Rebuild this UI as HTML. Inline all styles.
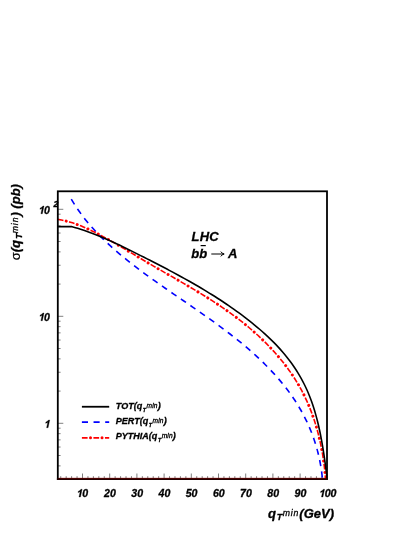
<!DOCTYPE html>
<html><head><meta charset="utf-8"><title>plot</title>
<style>
html,body{margin:0;padding:0;background:#fff;}
body{width:415px;height:537px;overflow:hidden;font-family:"Liberation Sans",sans-serif;}
svg{display:block;will-change:transform;}
text{font-family:"Liberation Sans",sans-serif;font-weight:bold;font-style:italic;fill:#000;stroke:#000;stroke-width:0.3px;}
.r{font-weight:normal;stroke:#000;stroke-width:0.3px;}
.n{font-weight:normal;font-style:normal;stroke-width:0.15px;}
</style></head><body>
<svg width="415" height="537" viewBox="0 0 415 537">
<rect width="415" height="537" fill="#fff"/>

<path d="M60.74,479.0 v-2.8 M66.18,479.0 v-2.8 M71.62,479.0 v-2.8 M77.06,479.0 v-2.8 M82.50,479.0 v-5.5 M87.94,479.0 v-2.8 M93.38,479.0 v-2.8 M98.82,479.0 v-2.8 M104.26,479.0 v-2.8 M109.70,479.0 v-5.5 M115.14,479.0 v-2.8 M120.58,479.0 v-2.8 M126.02,479.0 v-2.8 M131.46,479.0 v-2.8 M136.90,479.0 v-5.5 M142.34,479.0 v-2.8 M147.78,479.0 v-2.8 M153.22,479.0 v-2.8 M158.66,479.0 v-2.8 M164.10,479.0 v-5.5 M169.54,479.0 v-2.8 M174.98,479.0 v-2.8 M180.42,479.0 v-2.8 M185.86,479.0 v-2.8 M191.30,479.0 v-5.5 M196.74,479.0 v-2.8 M202.18,479.0 v-2.8 M207.62,479.0 v-2.8 M213.06,479.0 v-2.8 M218.50,479.0 v-5.5 M223.94,479.0 v-2.8 M229.38,479.0 v-2.8 M234.82,479.0 v-2.8 M240.26,479.0 v-2.8 M245.70,479.0 v-5.5 M251.14,479.0 v-2.8 M256.58,479.0 v-2.8 M262.02,479.0 v-2.8 M267.46,479.0 v-2.8 M272.90,479.0 v-5.5 M278.34,479.0 v-2.8 M283.78,479.0 v-2.8 M289.22,479.0 v-2.8 M294.66,479.0 v-2.8 M300.10,479.0 v-5.5 M305.54,479.0 v-2.8 M310.98,479.0 v-2.8 M316.42,479.0 v-2.8 M321.86,479.0 v-2.8 M327.30,479.0 v-5.5 M57.8,479.25 h2.8 M57.8,465.88 h2.8 M57.8,455.51 h2.8 M57.8,447.04 h2.8 M57.8,439.87 h2.8 M57.8,433.67 h2.8 M57.8,428.20 h2.8 M57.8,423.30 h5.5 M57.8,391.09 h2.8 M57.8,372.25 h2.8 M57.8,358.88 h2.8 M57.8,348.51 h2.8 M57.8,340.04 h2.8 M57.8,332.87 h2.8 M57.8,326.67 h2.8 M57.8,321.20 h2.8 M57.8,316.30 h5.5 M57.8,284.09 h2.8 M57.8,265.25 h2.8 M57.8,251.88 h2.8 M57.8,241.51 h2.8 M57.8,233.04 h2.8 M57.8,225.87 h2.8 M57.8,219.67 h2.8 M57.8,214.20 h2.8 M57.8,209.30 h5.5" stroke="#000" stroke-width="0.5" fill="none"/>
<clipPath id="c"><rect x="57.8" y="191.3" width="269.2" height="288.7"/></clipPath>
<g clip-path="url(#c)" fill="none" stroke-linejoin="round">
<path d="M71.30,199.20 C71.87,200.14 73.56,202.98 74.75,204.82 C75.94,206.67 77.16,208.48 78.41,210.27 C79.66,212.06 80.95,213.83 82.27,215.56 C83.58,217.30 84.93,219.01 86.30,220.70 C87.68,222.39 89.08,224.05 90.51,225.70 C91.94,227.34 93.39,228.96 94.87,230.55 C96.35,232.15 97.85,233.72 99.37,235.28 C100.90,236.84 102.44,238.37 104.01,239.89 C105.57,241.40 107.16,242.90 108.76,244.38 C110.36,245.86 111.98,247.32 113.61,248.76 C115.24,250.21 116.89,251.64 118.55,253.05 C120.21,254.46 121.89,255.86 123.57,257.24 C125.26,258.63 126.95,260.00 128.66,261.36 C130.36,262.72 132.08,264.06 133.80,265.39 C135.53,266.73 137.26,268.05 139.00,269.36 C140.74,270.68 142.49,271.98 144.24,273.27 C146.00,274.57 147.76,275.85 149.53,277.13 C151.30,278.41 153.07,279.68 154.85,280.95 C156.63,282.21 158.41,283.47 160.20,284.72 C161.99,285.98 163.78,287.22 165.58,288.47 C167.37,289.72 169.17,290.96 170.97,292.20 C172.77,293.44 174.58,294.67 176.38,295.91 C178.19,297.15 179.99,298.38 181.80,299.62 C183.61,300.85 185.41,302.09 187.22,303.33 C189.03,304.56 190.83,305.80 192.64,307.04 C194.44,308.29 196.25,309.53 198.05,310.78 C199.85,312.03 201.65,313.28 203.44,314.54 C205.24,315.80 207.03,317.06 208.82,318.34 C210.61,319.61 212.39,320.88 214.17,322.17 C215.95,323.46 217.73,324.75 219.49,326.05 C221.26,327.36 223.03,328.67 224.78,329.99 C226.53,331.32 228.28,332.65 230.02,334.00 C231.76,335.34 233.50,336.70 235.22,338.07 C236.94,339.44 238.66,340.82 240.36,342.22 C242.06,343.61 243.76,345.02 245.43,346.45 C247.11,347.87 248.78,349.30 250.43,350.76 C252.08,352.21 253.72,353.67 255.34,355.15 C256.96,356.63 258.57,358.12 260.15,359.63 C261.74,361.14 263.31,362.66 264.86,364.21 C266.41,365.75 267.94,367.30 269.45,368.87 C270.96,370.45 272.45,372.03 273.91,373.64 C275.38,375.24 276.82,376.87 278.24,378.51 C279.66,380.14 281.05,381.80 282.42,383.48 C283.79,385.15 285.13,386.84 286.44,388.55 C287.76,390.27 289.04,391.99 290.30,393.74 C291.55,395.49 292.78,397.26 293.98,399.05 C295.17,400.83 296.34,402.64 297.47,404.47 C298.60,406.29 299.70,408.14 300.76,410.00 C301.83,411.87 302.86,413.76 303.85,415.67 C304.85,417.57 305.81,419.50 306.73,421.45 C307.66,423.39 308.54,425.36 309.40,427.35 C310.25,429.33 311.06,431.33 311.84,433.36 C312.62,435.38 313.36,437.42 314.06,439.48 C314.76,441.54 315.42,443.62 316.05,445.71 C316.67,447.81 317.26,449.92 317.80,452.05 C318.35,454.18 318.86,456.33 319.32,458.49 C319.79,460.65 320.21,462.84 320.59,465.03 C320.98,467.23 321.32,469.44 321.62,471.67 C321.92,473.90 322.27,477.28 322.40,478.41" stroke="#0000ff" stroke-width="1.6" stroke-dasharray="6.1,5.4"/>
<path d="M57.80,219.40 C58.87,219.60 62.07,220.15 64.19,220.63 C66.30,221.11 68.40,221.68 70.49,222.30 C72.57,222.92 74.64,223.61 76.70,224.36 C78.76,225.10 80.81,225.90 82.85,226.75 C84.89,227.59 86.91,228.49 88.93,229.43 C90.95,230.36 92.95,231.34 94.95,232.34 C96.95,233.34 98.94,234.38 100.93,235.44 C102.91,236.50 104.88,237.58 106.85,238.68 C108.82,239.77 110.78,240.88 112.74,242.00 C114.70,243.12 116.65,244.25 118.60,245.39 C120.55,246.52 122.50,247.67 124.44,248.82 C126.39,249.97 128.33,251.13 130.27,252.28 C132.20,253.44 134.14,254.60 136.08,255.76 C138.02,256.92 139.95,258.08 141.89,259.23 C143.83,260.38 145.77,261.53 147.71,262.67 C149.65,263.82 151.60,264.95 153.54,266.08 C155.49,267.22 157.43,268.34 159.38,269.46 C161.33,270.58 163.27,271.70 165.22,272.82 C167.17,273.94 169.11,275.05 171.06,276.16 C173.00,277.28 174.95,278.39 176.89,279.51 C178.83,280.63 180.77,281.74 182.70,282.86 C184.64,283.99 186.57,285.11 188.50,286.24 C190.42,287.37 192.35,288.51 194.26,289.65 C196.18,290.79 198.09,291.94 200.00,293.10 C201.91,294.26 203.81,295.42 205.70,296.60 C207.59,297.78 209.48,298.97 211.36,300.17 C213.23,301.37 215.10,302.58 216.96,303.81 C218.82,305.04 220.67,306.28 222.51,307.54 C224.35,308.79 226.18,310.07 228.00,311.36 C229.82,312.65 231.63,313.96 233.43,315.29 C235.22,316.61 237.01,317.96 238.78,319.33 C240.55,320.69 242.30,322.08 244.04,323.48 C245.78,324.88 247.51,326.30 249.22,327.75 C250.93,329.19 252.62,330.65 254.29,332.13 C255.96,333.61 257.62,335.11 259.25,336.64 C260.88,338.16 262.50,339.70 264.09,341.26 C265.68,342.82 267.25,344.40 268.79,346.01 C270.34,347.61 271.86,349.24 273.36,350.88 C274.86,352.53 276.34,354.19 277.78,355.88 C279.23,357.57 280.65,359.27 282.04,361.00 C283.44,362.74 284.80,364.49 286.14,366.26 C287.47,368.04 288.78,369.83 290.05,371.65 C291.33,373.47 292.57,375.31 293.78,377.17 C294.99,379.04 296.17,380.92 297.32,382.83 C298.46,384.74 299.57,386.67 300.65,388.63 C301.72,390.58 302.76,392.56 303.76,394.56 C304.77,396.56 305.73,398.59 306.66,400.64 C307.59,402.68 308.48,404.75 309.33,406.84 C310.19,408.92 311.01,411.03 311.79,413.15 C312.58,415.27 313.32,417.41 314.04,419.55 C314.75,421.70 315.43,423.87 316.08,426.04 C316.73,428.21 317.34,430.40 317.92,432.59 C318.50,434.78 319.05,436.98 319.56,439.19 C320.08,441.39 320.56,443.60 321.01,445.81 C321.46,448.03 321.88,450.25 322.27,452.46 C322.66,454.68 323.01,456.89 323.34,459.11 C323.67,461.32 323.97,463.54 324.23,465.74 C324.50,467.95 324.74,470.15 324.95,472.34 C325.16,474.54 325.41,477.81 325.50,478.90" stroke="#ff0000" stroke-width="1.6" stroke-dasharray="5.7,5.83" fill="none"/><path d="M57.80,219.40 C58.87,219.60 62.07,220.15 64.19,220.63 C66.30,221.11 68.40,221.68 70.49,222.30 C72.57,222.92 74.64,223.61 76.70,224.36 C78.76,225.10 80.81,225.90 82.85,226.75 C84.89,227.59 86.91,228.49 88.93,229.43 C90.95,230.36 92.95,231.34 94.95,232.34 C96.95,233.34 98.94,234.38 100.93,235.44 C102.91,236.50 104.88,237.58 106.85,238.68 C108.82,239.77 110.78,240.88 112.74,242.00 C114.70,243.12 116.65,244.25 118.60,245.39 C120.55,246.52 122.50,247.67 124.44,248.82 C126.39,249.97 128.33,251.13 130.27,252.28 C132.20,253.44 134.14,254.60 136.08,255.76 C138.02,256.92 139.95,258.08 141.89,259.23 C143.83,260.38 145.77,261.53 147.71,262.67 C149.65,263.82 151.60,264.95 153.54,266.08 C155.49,267.22 157.43,268.34 159.38,269.46 C161.33,270.58 163.27,271.70 165.22,272.82 C167.17,273.94 169.11,275.05 171.06,276.16 C173.00,277.28 174.95,278.39 176.89,279.51 C178.83,280.63 180.77,281.74 182.70,282.86 C184.64,283.99 186.57,285.11 188.50,286.24 C190.42,287.37 192.35,288.51 194.26,289.65 C196.18,290.79 198.09,291.94 200.00,293.10 C201.91,294.26 203.81,295.42 205.70,296.60 C207.59,297.78 209.48,298.97 211.36,300.17 C213.23,301.37 215.10,302.58 216.96,303.81 C218.82,305.04 220.67,306.28 222.51,307.54 C224.35,308.79 226.18,310.07 228.00,311.36 C229.82,312.65 231.63,313.96 233.43,315.29 C235.22,316.61 237.01,317.96 238.78,319.33 C240.55,320.69 242.30,322.08 244.04,323.48 C245.78,324.88 247.51,326.30 249.22,327.75 C250.93,329.19 252.62,330.65 254.29,332.13 C255.96,333.61 257.62,335.11 259.25,336.64 C260.88,338.16 262.50,339.70 264.09,341.26 C265.68,342.82 267.25,344.40 268.79,346.01 C270.34,347.61 271.86,349.24 273.36,350.88 C274.86,352.53 276.34,354.19 277.78,355.88 C279.23,357.57 280.65,359.27 282.04,361.00 C283.44,362.74 284.80,364.49 286.14,366.26 C287.47,368.04 288.78,369.83 290.05,371.65 C291.33,373.47 292.57,375.31 293.78,377.17 C294.99,379.04 296.17,380.92 297.32,382.83 C298.46,384.74 299.57,386.67 300.65,388.63 C301.72,390.58 302.76,392.56 303.76,394.56 C304.77,396.56 305.73,398.59 306.66,400.64 C307.59,402.68 308.48,404.75 309.33,406.84 C310.19,408.92 311.01,411.03 311.79,413.15 C312.58,415.27 313.32,417.41 314.04,419.55 C314.75,421.70 315.43,423.87 316.08,426.04 C316.73,428.21 317.34,430.40 317.92,432.59 C318.50,434.78 319.05,436.98 319.56,439.19 C320.08,441.39 320.56,443.60 321.01,445.81 C321.46,448.03 321.88,450.25 322.27,452.46 C322.66,454.68 323.01,456.89 323.34,459.11 C323.67,461.32 323.97,463.54 324.23,465.74 C324.50,467.95 324.74,470.15 324.95,472.34 C325.16,474.54 325.41,477.81 325.50,478.90" stroke="#ff0000" stroke-width="3.0" stroke-dasharray="0.01,11.52" stroke-dashoffset="-8.6" stroke-linecap="round" fill="none"/>
<path d="M57.80,226.60 L71.60,226.60 C72.62,226.88 75.66,227.70 77.68,228.31 C79.70,228.92 81.73,229.57 83.75,230.24 C85.77,230.92 87.78,231.64 89.80,232.38 C91.82,233.12 93.83,233.90 95.84,234.70 C97.86,235.50 99.87,236.32 101.87,237.17 C103.88,238.02 105.89,238.89 107.89,239.78 C109.89,240.67 111.89,241.58 113.89,242.51 C115.88,243.43 117.88,244.37 119.87,245.32 C121.86,246.28 123.84,247.24 125.83,248.21 C127.81,249.18 129.79,250.17 131.77,251.15 C133.75,252.13 135.72,253.12 137.69,254.11 C139.66,255.10 141.62,256.09 143.59,257.08 C145.55,258.08 147.50,259.07 149.46,260.06 C151.41,261.06 153.36,262.05 155.30,263.05 C157.25,264.05 159.19,265.05 161.12,266.06 C163.06,267.06 164.99,268.07 166.92,269.08 C168.84,270.10 170.76,271.11 172.68,272.14 C174.59,273.16 176.50,274.19 178.41,275.23 C180.31,276.26 182.21,277.30 184.10,278.35 C186.00,279.40 187.89,280.46 189.77,281.52 C191.65,282.59 193.53,283.66 195.40,284.74 C197.27,285.83 199.13,286.92 200.99,288.02 C202.84,289.12 204.70,290.23 206.54,291.36 C208.39,292.48 210.22,293.61 212.05,294.76 C213.89,295.90 215.71,297.06 217.53,298.23 C219.35,299.40 221.16,300.58 222.96,301.78 C224.76,302.98 226.56,304.19 228.35,305.41 C230.14,306.64 231.92,307.88 233.69,309.14 C235.46,310.39 237.23,311.66 238.99,312.95 C240.75,314.24 242.50,315.54 244.24,316.86 C245.98,318.19 247.71,319.52 249.44,320.88 C251.16,322.24 252.87,323.61 254.56,325.01 C256.26,326.40 257.94,327.81 259.60,329.24 C261.27,330.67 262.91,332.12 264.54,333.59 C266.16,335.06 267.77,336.55 269.34,338.06 C270.92,339.56 272.48,341.09 274.01,342.64 C275.53,344.19 277.03,345.76 278.50,347.35 C279.97,348.94 281.41,350.55 282.82,352.18 C284.22,353.81 285.59,355.47 286.93,357.14 C288.26,358.82 289.56,360.52 290.82,362.24 C292.08,363.96 293.30,365.70 294.48,367.47 C295.67,369.23 296.81,371.02 297.92,372.83 C299.03,374.65 300.10,376.48 301.14,378.34 C302.17,380.20 303.16,382.08 304.12,383.99 C305.08,385.90 305.99,387.83 306.87,389.79 C307.75,391.75 308.59,393.73 309.39,395.74 C310.20,397.75 310.96,399.78 311.69,401.83 C312.42,403.89 313.11,405.96 313.77,408.05 C314.44,410.14 315.06,412.25 315.66,414.37 C316.26,416.49 316.83,418.63 317.37,420.77 C317.91,422.92 318.43,425.08 318.91,427.24 C319.40,429.41 319.87,431.58 320.31,433.75 C320.75,435.93 321.17,438.11 321.57,440.29 C321.97,442.47 322.35,444.65 322.71,446.83 C323.08,449.01 323.42,451.19 323.75,453.36 C324.09,455.53 324.40,457.69 324.71,459.85 C325.01,462.00 325.30,464.15 325.59,466.28 C325.87,468.41 326.15,470.53 326.41,472.64 C326.68,474.74 327.07,477.86 327.20,478.90" stroke="#000" stroke-width="1.6"/>
</g>
<path transform="translate(76.31,497.0) scale(0.01060,-0.01060) skewX(12)" d="M393,0 L254,0 L254,525 Q178,454 75,420 L75,546 Q129,564 193,613 Q257,663 281,729 L393,729 Z" fill="#000" stroke="#000" stroke-width="28"/><text x="82.20" y="497.0" font-size="10.6" stroke-width="0.3">0</text>
<text x="104.11" y="497.0" font-size="10.6" stroke-width="0.3">2</text><text x="110.00" y="497.0" font-size="10.6" stroke-width="0.3">0</text>
<text x="131.31" y="497.0" font-size="10.6" stroke-width="0.3">3</text><text x="137.20" y="497.0" font-size="10.6" stroke-width="0.3">0</text>
<text x="158.51" y="497.0" font-size="10.6" stroke-width="0.3">4</text><text x="164.40" y="497.0" font-size="10.6" stroke-width="0.3">0</text>
<text x="185.71" y="497.0" font-size="10.6" stroke-width="0.3">5</text><text x="191.60" y="497.0" font-size="10.6" stroke-width="0.3">0</text>
<text x="212.91" y="497.0" font-size="10.6" stroke-width="0.3">6</text><text x="218.80" y="497.0" font-size="10.6" stroke-width="0.3">0</text>
<text x="240.11" y="497.0" font-size="10.6" stroke-width="0.3">7</text><text x="246.00" y="497.0" font-size="10.6" stroke-width="0.3">0</text>
<text x="267.31" y="497.0" font-size="10.6" stroke-width="0.3">8</text><text x="273.20" y="497.0" font-size="10.6" stroke-width="0.3">0</text>
<text x="294.51" y="497.0" font-size="10.6" stroke-width="0.3">9</text><text x="300.40" y="497.0" font-size="10.6" stroke-width="0.3">0</text>
<path transform="translate(318.76,497.0) scale(0.01060,-0.01060) skewX(12)" d="M393,0 L254,0 L254,525 Q178,454 75,420 L75,546 Q129,564 193,613 Q257,663 281,729 L393,729 Z" fill="#000" stroke="#000" stroke-width="28"/><text x="324.65" y="497.0" font-size="10.6" stroke-width="0.3">0</text><text x="330.55" y="497.0" font-size="10.6" stroke-width="0.3">0</text>
<path transform="translate(43.91,427.7) scale(0.01060,-0.01060) skewX(12)" d="M393,0 L254,0 L254,525 Q178,454 75,420 L75,546 Q129,564 193,613 Q257,663 281,729 L393,729 Z" fill="#000" stroke="#000" stroke-width="28"/>
<path transform="translate(38.21,320.7) scale(0.01060,-0.01060) skewX(12)" d="M393,0 L254,0 L254,525 Q178,454 75,420 L75,546 Q129,564 193,613 Q257,663 281,729 L393,729 Z" fill="#000" stroke="#000" stroke-width="28"/><text x="44.11" y="320.7" font-size="10.6" stroke-width="0.3">0</text>
<path transform="translate(38.21,213.7) scale(0.01060,-0.01060) skewX(12)" d="M393,0 L254,0 L254,525 Q178,454 75,420 L75,546 Q129,564 193,613 Q257,663 281,729 L393,729 Z" fill="#000" stroke="#000" stroke-width="28"/><text x="44.11" y="213.7" font-size="10.6" stroke-width="0.3">0</text>
<text x="53.5" y="206.6" font-size="8.6" stroke-width="0.1">2</text>
<rect x="57.8" y="191.3" width="269.2" height="287.7" fill="none" stroke="#000" stroke-width="1.8"/>
<path d="M56.9,479.1 H327.9" stroke="#200000" stroke-width="1.8"/>
<path d="M58.699999999999996,478.25 H326.1" stroke="#8a0000" stroke-width="0.6"/>
<g font-size="13">
<text x="191.5" y="241.4" letter-spacing="0.25">LHC</text>
<text x="191.3" y="257.5">bb</text>
<path d="M200.6,245.6 h5.2" stroke="#000" stroke-width="1.2"/>
<text x="228.0" y="257.5">A</text>
<path d="M211.3,254 H224 M220.8,251.6 Q222,253.6 224.2,254 Q222,254.4 220.8,256.4" stroke="#000" stroke-width="1.0" fill="none"/>
</g>
<path d="M81.9,406.75 H109.2" stroke="#000" stroke-width="1.8"/>
<path d="M81.9,422.2 H109.2" stroke="#0000ff" stroke-width="1.8" stroke-dasharray="6.1,5.55"/>
<path d="M81.9,437.8 H109.2" stroke="#ff0000" stroke-width="1.8" stroke-dasharray="5.7,5.83" fill="none"/><path d="M81.9,437.8 H109.2" stroke="#ff0000" stroke-width="3.0" stroke-dasharray="0.01,11.52" stroke-dashoffset="-8.6" stroke-linecap="round" fill="none"/>
<text x="115.8" y="408.9" font-size="9">TOT(q<tspan font-size="5.2" dy="2.9" dx="0.7">T</tspan><tspan class="r" font-size="6.6" dy="-3.9" dx="0.6" letter-spacing="0.1">mi</tspan><tspan class="r" font-size="6.6">n</tspan><tspan dy="1.0" dx="0.2">)</tspan></text>
<text x="115.8" y="424.0" font-size="9">PERT(q<tspan font-size="5.2" dy="2.9" dx="0.7">T</tspan><tspan class="r" font-size="6.6" dy="-3.9" dx="0.6" letter-spacing="0.1">mi</tspan><tspan class="r" font-size="6.6">n</tspan><tspan dy="1.0" dx="0.2">)</tspan></text>
<text x="115.8" y="439.2" font-size="9">PYTHIA(q<tspan font-size="5.2" dy="2.9" dx="0.7">T</tspan><tspan class="r" font-size="6.6" dy="-3.9" dx="0.6" letter-spacing="0.1">mi</tspan><tspan class="r" font-size="6.6">n</tspan><tspan dy="1.0" dx="0.2">)</tspan></text>
<text x="268" y="518" font-size="13">q<tspan font-size="9" dy="2.4" dx="0.9">T</tspan><tspan class="r" font-size="8.7" dy="-4.5" dx="0.3" letter-spacing="0.9">mi</tspan><tspan class="r" font-size="8.7">n</tspan><tspan dy="2.1" dx="0.9">(GeV)</tspan></text>
<text transform="translate(20,260.3) rotate(-90)" font-size="13"><tspan class="n">σ</tspan>(q<tspan font-size="9" dy="2.4" dx="0.9">T</tspan><tspan class="r" font-size="8.7" dy="-4.5" dx="0.3" letter-spacing="0.9">mi</tspan><tspan class="r" font-size="8.7">n</tspan><tspan dy="2.1" dx="0.9">) (pb)</tspan></text>
</svg></body></html>
